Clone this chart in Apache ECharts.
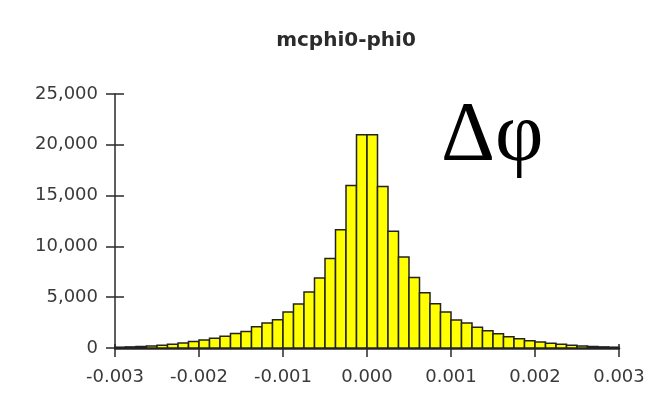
<!DOCTYPE html>
<html>
<head>
<meta charset="utf-8">
<script src="https://cdn.jsdelivr.net/npm/echarts@6/dist/echarts.min.js"></script>
<style>
html,body{margin:0;padding:0;background:#fff;}
#chart{width:660px;height:411px;}
</style>
</head>
<body>
<div id="chart"></div>
<script>
// Histogram of mcphi0 - phi0
var chartTitle = 'mcphi0-phi0';
var annotation = 'Δφ';
var binStart = -0.003;
var binWidth = 0.000125;
var counts = [
  80, 110, 150, 200, 270, 370, 480, 640,
  780, 950, 1150, 1420, 1620, 2100, 2450, 2780,
  3550, 4320, 5520, 6880, 8800, 11650, 16000, 21000,
  21000, 15900, 11500, 8950, 6950, 5450, 4350, 3550,
  2750, 2450, 2050, 1700, 1400, 1100, 900, 720,
  600, 460, 360, 270, 200, 150, 110, 80
];
var xTicks = [-0.003, -0.002, -0.001, 0.000, 0.001, 0.002, 0.003];
var yTicks = [0, 5000, 10000, 15000, 20000, 25000];

var bins = counts.map(function (c, i) {
  var x0 = binStart + i * binWidth;
  return [x0, x0 + binWidth, c];
});

var G = { left: 115, right: 41, top: 94, bottom: 63, containLabel: false };

var chart = echarts.init(document.getElementById('chart'));
var axisColor = '#2a2a2a';
var labelStyle = { color: '#3a3a3a', fontFamily: 'DejaVu Sans', fontSize: 18 };

function xAxisDef(grid, inside, len, showLine, showLabel) {
  return {
    type: 'value', gridIndex: grid, position: 'bottom',
    min: xTicks[0], max: xTicks[xTicks.length - 1], interval: 0.001,
    splitLine: { show: false },
    axisLine: { show: showLine, onZero: false, lineStyle: { color: axisColor, width: 2.5 } },
    axisTick: { show: true, length: len, inside: inside, lineStyle: { color: axisColor, width: 1.5 } },
    axisLabel: showLabel ? Object.assign({}, labelStyle, {
      margin: 20,
      formatter: function (v) { return v.toFixed(3); }
    }) : { show: false }
  };
}
function yAxisDef(grid, inside, len, showLine, showLabel) {
  return {
    type: 'value', gridIndex: grid, position: 'left',
    min: yTicks[0], max: yTicks[yTicks.length - 1], interval: 5000,
    splitLine: { show: false },
    axisLine: { show: showLine, onZero: false, lineStyle: { color: axisColor, width: 1.5 } },
    axisTick: { show: true, length: len, inside: inside, lineStyle: { color: axisColor, width: 1.5 } },
    axisLabel: showLabel ? Object.assign({}, labelStyle, {
      margin: 17,
      formatter: function (v) { return v.toLocaleString('en-US'); }
    }) : { show: false }
  };
}

chart.setOption({
  animation: false,
  backgroundColor: '#fff',
  title: {
    text: chartTitle,
    left: 341, top: 26, textAlign: 'center',
    textStyle: { fontFamily: 'DejaVu Sans', fontWeight: 'bold', fontSize: 20, color: '#2b2b2b' }
  },
  grid: [Object.assign({}, G), Object.assign({}, G)],
  xAxis: [xAxisDef(0, false, 9, true, true), xAxisDef(1, true, 4, false, false)],
  yAxis: [yAxisDef(0, false, 9, true, true), yAxisDef(1, true, 9, false, false)],
  series: [{
    type: 'custom',
    xAxisIndex: 0,
    yAxisIndex: 0,
    data: bins,
    encode: { x: [0, 1], y: 2 },
    renderItem: function (params, api) {
      var p0 = api.coord([api.value(0), 0]);
      var p1 = api.coord([api.value(1), api.value(2)]);
      return {
        type: 'rect',
        shape: { x: p0[0], y: p1[1], width: p1[0] - p0[0], height: p0[1] - p1[1] },
        style: { fill: '#ffff00', stroke: '#222', lineWidth: 1.5 }
      };
    },
    z: 1
  }, {
    type: 'custom',
    xAxisIndex: 1,
    yAxisIndex: 1,
    silent: true,
    data: bins,
    encode: { x: [0, 1], y: 2 },
    renderItem: function () { return { type: 'group', children: [] }; }
  }],
  graphic: [{
    type: 'text',
    left: 441, top: 96,
    style: { text: annotation, font: '84px "Liberation Serif"', fill: '#000' },
    z: 10
  }]
});
</script>
</body>
</html>
